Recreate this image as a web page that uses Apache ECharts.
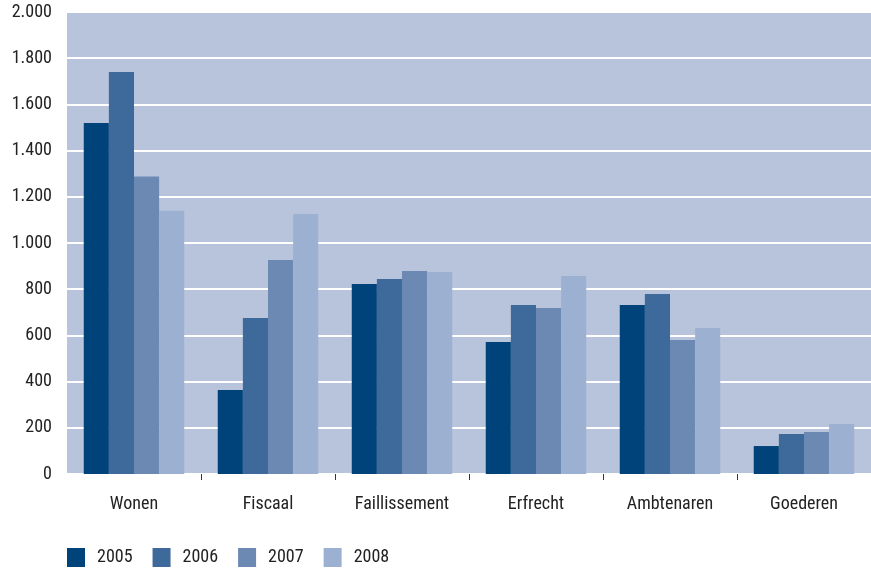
<!DOCTYPE html>
<html><head><meta charset="utf-8">
<script src="https://cdn.jsdelivr.net/npm/echarts@6/dist/echarts.min.js"></script>
<style>html,body{margin:0;padding:0;background:#fff}#c{width:871px;height:569px}</style>
</head><body><div id="c"></div>
<script>
const categories = ['Wonen','Fiscaal','Faillissement','Erfrecht','Ambtenaren','Goederen'];
const years = ['2005','2006','2007','2008'];
const v2005 = [1520, 364, 823, 571, 732, 121];
const v2006 = [1740, 675, 844, 732, 779, 173];
const v2007 = [1288, 926, 879, 719, 580, 182];
const v2008 = [1140, 1126, 874, 857, 632, 216];
const yTicks = ['0','200','400','600','800','1.000','1.200','1.400','1.600','1.800','2.000'];
const colors = ['#00437a','#3e6a9b','#6b89b3','#9cb0d1'];
const FONT = "'Liberation Sans Narrow','Arial Narrow','Roboto Condensed',sans-serif";
const values = [v2005, v2006, v2007, v2008];
const boundaries = categories.map((c,i)=>'b'+i).concat(['b'+categories.length]);
const chart = echarts.init(document.getElementById('c'));
chart.setOption({
  animation:false,
  color:colors,
  textStyle:{fontFamily:FONT},
  grid:{left:67,right:0,top:12,bottom:95,backgroundColor:'#b8c4dc',show:true,borderWidth:0},
  legend:{left:67,top:548,padding:0,itemWidth:18,itemHeight:19,itemGap:20,icon:'rect',
    textStyle:{fontFamily:FONT,fontSize:18,color:'#222',padding:[0,0,0,7]},data:years},
  xAxis:[{type:'category',data:categories,
    axisLine:{show:false},
    axisTick:{show:false},
    axisLabel:{margin:21,fontFamily:FONT,fontSize:18,color:'#222'}},
   {type:'category',data:boundaries,position:'bottom',boundaryGap:false,
    axisLine:{show:false},axisLabel:{show:false},
    axisTick:{show:true,length:6,interval:(i)=>i>0&&i<categories.length,lineStyle:{color:'#333'}}}],
  yAxis:{type:'value',min:0,max:2000,interval:200,
    axisLine:{show:false},axisTick:{show:false},
    splitLine:{lineStyle:{color:'#ffffff',width:2}},
    axisLabel:{margin:15,fontFamily:FONT,fontSize:18,color:'#222',
      formatter:(v)=>yTicks[Math.round(v/200)]}},
  series: years.map((y,i)=>({name:y,type:'bar',xAxisIndex:0,data:values[i],barGap:'0%',barCategoryGap:'25%',itemStyle:{color:colors[i]}}))
});
</script></body></html>
